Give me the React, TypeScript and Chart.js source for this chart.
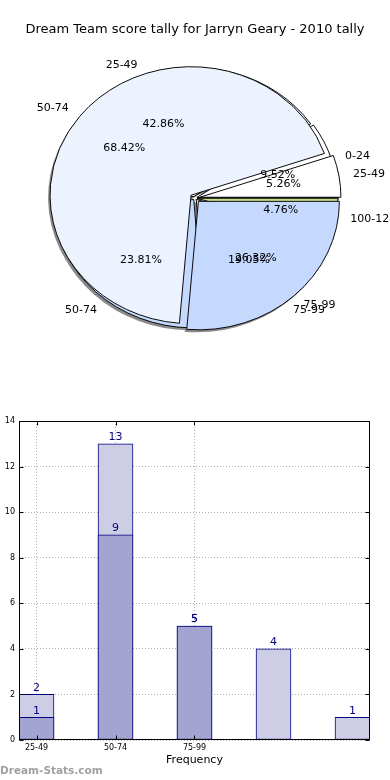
import React, { useEffect, useRef } from 'react';
import { Chart, registerables } from 'chart.js';

Chart.register(...registerables);

const FONT = '"DejaVu Sans", sans-serif';

// ---------- data ----------
const pieTitle = 'Dream Team score tally for Jarryn Geary - 2010 tally';

// pie drawn underneath (5 slices)
const lowerPieLabels = ['0-24', '25-49', '50-74', '75-99', '100-124'];
const lowerPieValues = [2, 9, 5, 4, 1];
const lowerPieColors = ['#ffffff', '#ecf2fe', '#c5d8fd', '#ffffff', '#c8e08e'];

// pie drawn on top (3 slices)
const upperPieLabels = ['25-49', '50-74', '75-99'];
const upperPieValues = [1, 13, 5];
const upperPieColors = ['#ffffff', '#ecf2fe', '#c5d8fd'];

const barTickLabels = ['25-49', '50-74', '75-99'];
const lightBarValues = [2, 13, 5, 4, 1];
const darkBarValues = [1, 9, 5];

// ---------- pie geometry (layout only) ----------
const PIE = { cx: 195, cy: 198, r: 141, sy: 128.5 / 141 };
const pieExplode = [5, 2]; // dataset 0 = upper pie, dataset 1 = lower pie
const pieSliceLabels = [[...upperPieLabels].reverse(), [...lowerPieLabels].reverse()];

const piePlugin = {
  id: 'mplPie',
  afterDatasetsUpdate(chart: any) {
    chart.data.datasets.forEach((_: any, di: number) => {
      const meta = chart.getDatasetMeta(di);
      meta.data.forEach((el: any) => {
        const mid = (el.startAngle + el.endAngle) / 2;
        el.x = PIE.cx + Math.cos(mid) * pieExplode[di];
        el.y = PIE.cy + Math.sin(mid) * pieExplode[di];
        el.innerRadius = 0;
        el.outerRadius = PIE.r;
      });
    });
  },
  beforeDatasetsDraw(chart: any) {
    const ctx = chart.ctx;
    ctx.save();
    ctx.translate(0, PIE.cy * (1 - PIE.sy));
    ctx.scale(1, PIE.sy);
    ctx.save();
    ctx.fillStyle = '#8a8a8a';
    for (let di = chart.data.datasets.length - 1; di >= 0; di--) {
      for (const el of chart.getDatasetMeta(di).data as any[]) {
        const x = el.x - 2;
        const y = el.y + 2.5 / PIE.sy;
        ctx.beginPath();
        ctx.moveTo(x, y);
        ctx.arc(x, y, PIE.r, el.startAngle, el.endAngle);
        ctx.closePath();
        ctx.fill();
      }
    }
    ctx.restore();
  },
  afterDatasetsDraw(chart: any) {
    chart.ctx.restore();
  },
  afterDraw(chart: any) {
    const ctx = chart.ctx;
    ctx.save();
    ctx.fillStyle = '#000';
    ctx.font = `11px ${FONT}`;
    ctx.textBaseline = 'middle';
    const toScreenY = (yy: number) => PIE.cy + (yy - PIE.cy) * PIE.sy;
    for (let di = chart.data.datasets.length - 1; di >= 0; di--) {
      const ds = chart.data.datasets[di];
      const total = ds.data.reduce((a: number, b: number) => a + b, 0);
      (chart.getDatasetMeta(di).data as any[]).forEach((el, i) => {
        const mid = (el.startAngle + el.endAngle) / 2;
        const c = Math.cos(mid);
        const s = Math.sin(mid);
        ctx.textAlign = c > 0 ? 'left' : 'right';
        ctx.fillText(pieSliceLabels[di][i], el.x + 1.1 * PIE.r * c, toScreenY(el.y + 1.1 * PIE.r * s));
        ctx.textAlign = 'center';
        const pct = ((ds.data[i] / total) * 100).toFixed(2) + '%';
        ctx.fillText(pct, el.x + 0.6 * PIE.r * c, toScreenY(el.y + 0.6 * PIE.r * s));
      });
    }
    ctx.restore();
  },
};

const barPlugin = {
  id: 'mplBar',
  afterDatasetsDraw(chart: any) {
    const ctx = chart.ctx;
    ctx.save();
    ctx.fillStyle = '#000080';
    ctx.font = `11px ${FONT}`;
    ctx.textAlign = 'center';
    ctx.textBaseline = 'bottom';
    for (let di = chart.data.datasets.length - 1; di >= 0; di--) {
      const ds = chart.data.datasets[di];
      (chart.getDatasetMeta(di).data as any[]).forEach((el, i) => {
        ctx.fillText(String(ds.data[i].y), el.x, el.y - 1);
      });
    }
    ctx.restore();
  },
  afterDraw(chart: any) {
    const { ctx, chartArea } = chart;
    const { left, right, top, bottom } = chartArea;
    ctx.save();
    ctx.strokeStyle = '#000';
    ctx.lineWidth = 1;
    const L = Math.round(left) + 0.5;
    const R = Math.round(right) - 0.5;
    const T = Math.round(top) + 0.5;
    const B = Math.round(bottom) - 0.5;
    ctx.beginPath();
    const ys = chart.scales.y;
    ys.ticks.forEach((t: any) => {
      const py = Math.round(ys.getPixelForValue(t.value)) + 0.5;
      ctx.moveTo(L, py); ctx.lineTo(L + 4, py);
      ctx.moveTo(R, py); ctx.lineTo(R - 4, py);
    });
    const xs = chart.scales.x;
    xs.ticks.forEach((t: any) => {
      const px = Math.round(xs.getPixelForValue(t.value)) + 0.5;
      ctx.moveTo(px, B); ctx.lineTo(px, B - 4);
      ctx.moveTo(px, T); ctx.lineTo(px, T + 4);
    });
    ctx.stroke();
    ctx.strokeRect(L, T, R - L, B - T);
    ctx.restore();
  },
};

const X_PAD = 17.5 / 79;

export default function App() {
  const pieRef = useRef<HTMLCanvasElement>(null);
  const barRef = useRef<HTMLCanvasElement>(null);

  useEffect(() => {
    const pie = new Chart(pieRef.current as HTMLCanvasElement, {
      type: 'pie',
      data: {
        datasets: [
          {
            data: [...upperPieValues].reverse(),
            backgroundColor: [...upperPieColors].reverse(),
            borderColor: '#000',
            borderWidth: 1,
            clip: false,
          } as any,
          {
            data: [...lowerPieValues].reverse(),
            backgroundColor: [...lowerPieColors].reverse(),
            borderColor: '#000',
            borderWidth: 1,
            clip: false,
          } as any,
        ],
      },
      options: {
        animation: false,
        responsive: false,
        events: [],
        rotation: 90,
        plugins: {
          legend: { display: false },
          tooltip: { enabled: false },
          title: {
            display: true,
            text: pieTitle,
            color: '#000',
            font: { family: FONT, size: 13, weight: 'normal' },
            padding: { top: 22, bottom: 10 },
          },
        },
      } as any,
      plugins: [piePlugin],
    });

    const bar = new Chart(barRef.current as HTMLCanvasElement, {
      type: 'bar',
      data: {
        datasets: [
          {
            label: 'dark',
            data: darkBarValues.map((v, i) => ({ x: i, y: v })),
            backgroundColor: '#a3a4d0',
            borderColor: '#000080',
            borderWidth: 1,
            borderSkipped: false,
            grouped: false,
            barThickness: 35,
            order: 0,
          } as any,
          {
            label: 'light',
            data: lightBarValues.map((v, i) => ({ x: i, y: v })),
            backgroundColor: '#cdcde5',
            borderColor: '#000080',
            borderWidth: 1,
            borderSkipped: false,
            grouped: false,
            barThickness: 35,
            order: 1,
          } as any,
        ],
      },
      options: {
        animation: false,
        responsive: false,
        events: [],
        layout: { padding: { top: 21, right: 20, left: 0, bottom: 0 } },
        plugins: { legend: { display: false }, tooltip: { enabled: false } },
        scales: {
          x: {
            type: 'linear',
            min: -X_PAD,
            max: lightBarValues.length - 1 + X_PAD,
            offset: false,
            afterBuildTicks: (s: any) => {
              s.ticks = barTickLabels.map((_, i) => ({ value: i }));
            },
            afterFit: (s: any) => {
              s.height = 40;
            },
            ticks: {
              autoSkip: false,
              maxRotation: 0,
              padding: 3,
              color: '#000',
              font: { family: FONT, size: 8 },
              callback: (_v: any, i: number) => barTickLabels[i],
            },
            grid: { offset: false, drawTicks: false, color: '#b0b0b0', lineWidth: 1 },
            border: { display: false, dash: [1, 2] },
            title: {
              display: true,
              text: 'Frequency',
              color: '#000',
              font: { family: FONT, size: 11 },
              padding: { top: 0, bottom: 13 },
            },
          },
          y: {
            min: 0,
            max: 14,
            ticks: { stepSize: 2, padding: 4, color: '#000', font: { family: FONT, size: 8 } },
            afterFit: (s: any) => {
              s.width = 31;
            },
            grid: { drawTicks: false, color: '#b0b0b0', lineWidth: 1 },
            border: { display: false, dash: [1, 2] },
            title: {
              display: true,
              text: 'Score Interval',
              color: '#000',
              font: { family: FONT, size: 11 },
              padding: { top: 3, bottom: 0 },
            },
          },
        },
      } as any,
      plugins: [barPlugin],
    });

    return () => {
      pie.destroy();
      bar.destroy();
    };
  }, []);

  return (
    <div
      style={{
        position: 'fixed',
        left: 0,
        top: 0,
        width: 390,
        height: 780,
        background: '#fff',
        overflow: 'hidden',
      }}
    >
      <canvas
        ref={pieRef}
        width={390}
        height={400}
        style={{ position: 'absolute', left: 0, top: 0, width: 390, height: 400 }}
      />
      <canvas
        ref={barRef}
        width={402}
        height={380}
        style={{ position: 'absolute', left: -12, top: 400, width: 402, height: 380 }}
      />
      <div
        style={{
          position: 'absolute',
          left: 0,
          top: 763,
          font: `bold 10.5px ${FONT}`,
          color: '#a0a0a0',
          lineHeight: '14px',
          whiteSpace: 'nowrap',
        }}
      >
        Dream-Stats.com
      </div>
    </div>
  );
}
